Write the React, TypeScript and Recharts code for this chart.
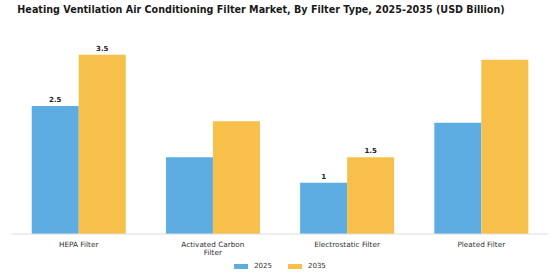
import React from 'react';
import { BarChart, Bar, XAxis, YAxis, LabelList, Legend } from 'recharts';

const categories = ['HEPA Filter', 'Activated Carbon Filter', 'Electrostatic Filter', 'Pleated Filter'];
const values2025 = [2.5, 1.5, 1, 2.17];
const values2035 = [3.5, 2.2, 1.5, 3.4];
// only some bars carry a value label in the source
const shown2025 = [true, false, true, false];
const shown2035 = [true, false, true, false];

const tickLines: Record<string, string[]> = {
  'Activated Carbon Filter': ['Activated Carbon', 'Filter'],
};

const data = categories.map((name, i) => ({
  name,
  y2025: values2025[i],
  y2035: values2035[i],
  l2025: shown2025[i] ? values2025[i] : null,
  l2035: shown2035[i] ? values2035[i] : null,
}));

const BLUE = '#5DADE2';
const GOLD = '#F7C04A';
const FONT = '"DejaVu Sans", sans-serif';

function CategoryTick({ x, y, payload }: any) {
  const lines = tickLines[payload.value] || [payload.value];
  return (
    <text x={x} y={y} textAnchor="middle" fontFamily={FONT} fontSize={7.3} fill="#333">
      {lines.map((t, i) => (
        <tspan key={t} x={x} dy={i === 0 ? 4.5 : 8.5}>
          {t}
        </tspan>
      ))}
    </text>
  );
}

function LegendContent() {
  const items = [
    { label: '2025', color: BLUE },
    { label: '2035', color: GOLD },
  ];
  return (
    <div
      style={{
        display: 'flex',
        justifyContent: 'center',
        gap: 16,
        paddingTop: 6,
        fontFamily: FONT,
        fontSize: 7,
        color: '#333',
      }}
    >
      {items.map((it) => (
        <div key={it.label} style={{ display: 'flex', alignItems: 'center', gap: 6 }}>
          <span style={{ width: 14, height: 5, background: it.color, display: 'inline-block' }} />
          <span>{it.label}</span>
        </div>
      ))}
    </div>
  );
}

export default function App() {
  return (
    <div style={{ position: 'absolute', left: 0, top: 0, width: 560, height: 280, background: '#fff' }}>
      <div
        style={{
          position: 'absolute',
          top: 4,
          left: 0,
          width: 522,
          textAlign: 'center',
          fontFamily: FONT,
          fontWeight: 'bold',
          fontSize: 9.6,
          color: '#1a1a1a',
        }}
      >
        Heating Ventilation Air Conditioning Filter Market, By Filter Type, 2025-2035 (USD Billion)
      </div>
      <BarChart
        width={560}
        height={280}
        data={data}
        margin={{ top: 29, right: 11.6, bottom: 0, left: 11.6 }}
        barCategoryGap="15%"
        barGap={0}
      >
        <XAxis
          dataKey="name"
          axisLine={{ stroke: '#ddd' }}
          tickLine={false}
          interval={0}
          height={22}
          tick={<CategoryTick />}
        />
        <YAxis hide domain={[0, 4]} />
        <Legend verticalAlign="bottom" height={24} content={<LegendContent />} />
        <Bar dataKey="y2025" name="2025" fill={BLUE} isAnimationActive={false}>
          <LabelList dataKey="l2025" position="top" offset={4} fontFamily={FONT} fontSize={7} fontWeight="bold" fill="#222" />
        </Bar>
        <Bar dataKey="y2035" name="2035" fill={GOLD} isAnimationActive={false}>
          <LabelList dataKey="l2035" position="top" offset={4} fontFamily={FONT} fontSize={7} fontWeight="bold" fill="#222" />
        </Bar>
      </BarChart>
    </div>
  );
}
